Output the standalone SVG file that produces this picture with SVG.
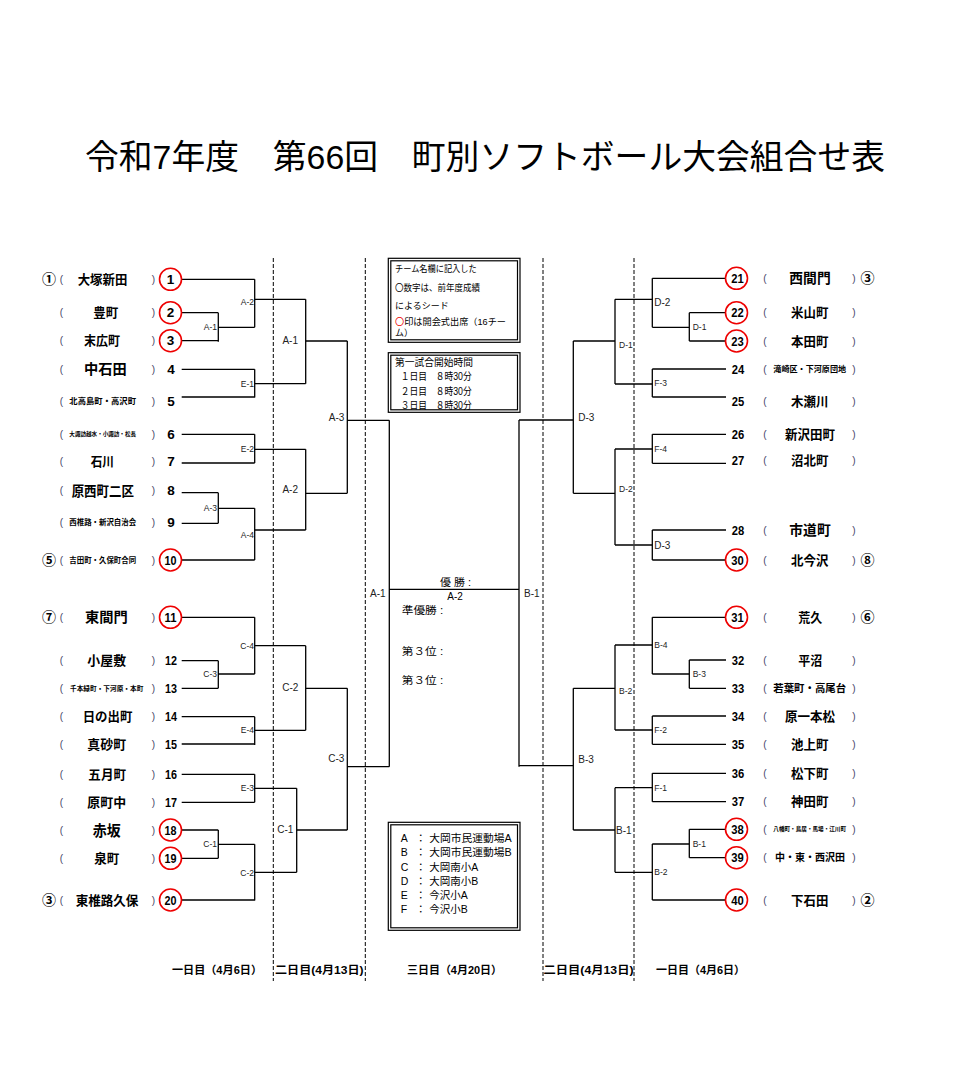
<svg xmlns="http://www.w3.org/2000/svg" width="973" height="1077" viewBox="0 0 973 1077">
<style>
text{font-family:"Liberation Sans","Noto Sans CJK JP",sans-serif;dominant-baseline:central;fill:#000}
.ln{stroke:#000;stroke-width:1.3;fill:none}
.dash{stroke:#000;stroke-width:1;stroke-dasharray:4 2;fill:none}
.nm{font-weight:bold;text-anchor:middle}
.num{font-weight:bold;text-anchor:middle;font-size:13.5px}
.sd{font-weight:bold;text-anchor:middle;font-size:14px}
.par{font-size:10px;text-anchor:middle;fill:#446}
.cir{fill:#fff;stroke:#e00;stroke-width:1.6}
.lb{font-size:8.5px;fill:#222}
.lb2{font-size:10px;fill:#222}
.r{text-anchor:end}
.bx{fill:none;stroke:#000;stroke-width:1.2}
.bt{font-size:9px}
.bt2{font-size:10px}
.ft{font-size:10px}
.day{font-size:11px;font-weight:bold}
</style>
<rect width="973" height="1077" fill="#fff"/>
<text id="title" x="485" y="157" text-anchor="middle" font-size="34" textLength="800" lengthAdjust="spacingAndGlyphs">令和7年度　第66回　町別ソフトボール大会組合せ表</text>

<g id="dashes">
<line class="dash" x1="273.3" y1="258" x2="273.3" y2="981"/>
<line class="dash" x1="365.3" y1="258" x2="365.3" y2="981"/>
<line class="dash" x1="543" y1="258" x2="543" y2="981"/>
<line class="dash" x1="634" y1="258" x2="634" y2="981"/>
</g>

<g id="connectors">
<path class="ln" d="M181.7 279.3H254.7M181.7 312.7H218.3M181.7 340.7H218.3M181.7 369.3H254.7M181.7 397H254.7M181.7 434.3H254.7M181.7 463H254.7M181.7 492.7H218.3M181.7 523.3H218.3M181.7 560H254.7M181.7 617.3H254.7M181.7 660.7H218.3M181.7 688.3H218.3M181.7 716.7H254.7M181.7 744H254.7M181.7 774.3H254.7M181.7 802.3H254.7M181.7 830H218.3M181.7 858.3H218.3M181.7 900H254.7"/>
<path class="ln" d="M218.3 312.7V341.7M218.3 492.7V523.3M218.3 660.7V688.3M218.3 830V858.3M218.3 327.3H254.7M218.3 508.3H254.7M218.3 674H254.7M218.3 844.3H254.7"/>
<path class="ln" d="M254.7 279.3V327.3M254.7 369.3V397.5M254.7 434.3V463M254.7 508.3V560M254.7 617.3V674M254.7 716.7V745M254.7 774.3V802.3M254.7 844.3V900.5"/>
<path class="ln" d="M254.7 299.3H305.7M254.7 383.7H305.7M254.7 449.3H305.7M254.7 530H305.7M254.7 645.7H305.7M254.7 730.3H305.7M254.7 788.3H296.7M254.7 872.3H296.7"/>
<path class="ln" d="M305.7 299.3V383.7M305.7 449.3V530M305.7 645.7V730.3M296.7 788.3V872.3M305.7 341H347.3M305.7 493.3H347.3M305.7 688.3H347.3M296.7 830H347.3"/>
<path class="ln" d="M347.3 341V493.3M347.3 688.3V830M347.3 420.3H389.3M347.3 766.7H389.3M389.3 420.3V766.7M389.3 589.3H519M519 420V766.7"/>
<path class="ln" d="M519 420H573.3M519 765.7H573.3M573.3 341V493.3M573.3 688.3V830M573.3 341H615M573.3 493.3H615M573.3 688.3H615M573.3 830H615"/>
<path class="ln" d="M615 299.3V384M615 449V545M615 645V730M615 787.7V872.3M615 299.3H652.3M615 384H652.3M615 449H652.3M615 545H652.3M615 645H652.3M615 730H652.3M615 787.7H652.3M615 872.3H652.3"/>
<path class="ln" d="M652.3 278.3V327.3M652.3 369V397M652.3 434.3V463.3M652.3 530V560M652.3 617.3V674M652.3 716V744.3M652.3 773.3V801.7M652.3 844V900M652.3 327.3H689.3M652.3 674H689.3M652.3 844H689.3M689.3 312.7V341M689.3 660V688.3M689.3 829.3V857.7"/>
<path class="ln" d="M652.3 278.3H726M689.3 312.7H726M689.3 341H726M652.3 369H726M652.3 397H726M652.3 434.3H726M652.3 463.3H726M652.3 530H726M652.3 560H726M652.3 617.3H726M689.3 660H726M689.3 688.3H726M652.3 716H726M652.3 744.3H726M652.3 773.3H726M652.3 801.7H726M689.3 829.3H726M689.3 857.7H726M652.3 900H726"/>
</g>

<g id="match-labels">
<text class="lb r" x="254" y="302">A-2</text>
<text class="lb r" x="217" y="327.3">A-1</text>
<text class="lb r" x="254" y="383.5">E-1</text>
<text class="lb r" x="254" y="449">E-2</text>
<text class="lb r" x="217" y="508.3">A-3</text>
<text class="lb r" x="254" y="535">A-4</text>
<text class="lb r" x="254" y="645.7" font-size="9.5">C-4</text>
<text class="lb r" x="217" y="674" font-size="9.5">C-3</text>
<text class="lb r" x="254" y="730" font-size="9.5">E-4</text>
<text class="lb r" x="254" y="788.3" font-size="9.5">E-3</text>
<text class="lb r" x="217" y="844.3" font-size="9.5">C-1</text>
<text class="lb r" x="254" y="872.5">C-2</text>
<text class="lb2 r" x="298" y="340.7">A-1</text>
<text class="lb2 r" x="298" y="489.3">A-2</text>
<text class="lb2 r" x="298.3" y="687.3">C-2</text>
<text class="lb2 r" x="293.3" y="829.3">C-1</text>
<text class="lb2 r" x="344.3" y="417.7">A-3</text>
<text class="lb2 r" x="344.3" y="758.7">C-3</text>
<text class="lb2" x="370" y="593.3">A-1</text>
<text class="lb2" x="524" y="593.3">B-1</text>
<text class="lb2" x="578.3" y="417.7">D-3</text>
<text class="lb2" x="578.3" y="759">B-3</text>
<text class="lb" x="619" y="345">D-1</text>
<text class="lb" x="619" y="489.3">D-2</text>
<text class="lb" x="619" y="690.7">B-2</text>
<text class="lb2" x="616" y="830" font-size="10.5">B-1</text>
<text class="lb2" x="654.3" y="302.7">D-2</text>
<text class="lb" x="692.7" y="327.3">D-1</text>
<text class="lb" x="654.3" y="383.3">F-3</text>
<text class="lb" x="654.3" y="449" font-size="9">F-4</text>
<text class="lb2" x="654.3" y="545">D-3</text>
<text class="lb" x="654.3" y="645">B-4</text>
<text class="lb" x="692.7" y="674">B-3</text>
<text class="lb" x="654.3" y="730">F-2</text>
<text class="lb" x="654.3" y="787.7">F-1</text>
<text class="lb" x="692.7" y="844">B-1</text>
<text class="lb" x="654.3" y="872.3">B-2</text>
</g>

<g id="t1"><text class="sd" x="49" y="279.3">①</text><text class="par" x="61.5" y="279.3">(</text><text class="nm" x="102.5" y="279.3" font-size="13" textLength="49.6" lengthAdjust="spacingAndGlyphs">大塚新田</text><text class="par" x="153.3" y="279.3">)</text><circle class="cir" cx="170.5" cy="279.3" r="11"/><text class="num" x="170.5" y="279.3">1</text></g>
<g id="t2"><text class="par" x="61.5" y="312.7">(</text><text class="nm" x="105.8" y="312.7" font-size="13" textLength="25" lengthAdjust="spacingAndGlyphs">豊町</text><text class="par" x="153.3" y="312.7">)</text><circle class="cir" cx="170.5" cy="312.7" r="11"/><text class="num" x="170.5" y="312.7">2</text></g>
<g id="t3"><text class="par" x="61.5" y="340.7">(</text><text class="nm" x="102" y="340.7" font-size="13" textLength="36" lengthAdjust="spacingAndGlyphs">末広町</text><text class="par" x="153.3" y="340.7">)</text><circle class="cir" cx="170.5" cy="340.7" r="11"/><text class="num" x="170.5" y="340.7">3</text></g>
<g id="t4"><text class="par" x="61.5" y="369.3">(</text><text class="nm" x="105.3" y="369.3" font-size="14" textLength="42.7" lengthAdjust="spacingAndGlyphs">中石田</text><text class="par" x="153.3" y="369.3">)</text><text class="num" x="171" y="369.3">4</text></g>
<g id="t5"><text class="par" x="61.5" y="401">(</text><text class="nm" x="102.7" y="401" font-size="8.5" textLength="66.7" lengthAdjust="spacingAndGlyphs">北高島町・高沢町</text><text class="par" x="153.3" y="401">)</text><text class="num" x="171" y="401">5</text></g>
<g id="t6"><text class="par" x="61.5" y="434.3">(</text><text class="nm" x="102.7" y="434.3" font-size="6" textLength="66.7" lengthAdjust="spacingAndGlyphs">大諏訪越水・小諏訪・松長</text><text class="par" x="153.3" y="434.3">)</text><text class="num" x="171" y="434.3">6</text></g>
<g id="t7"><text class="par" x="61.5" y="461">(</text><text class="nm" x="102.3" y="461" font-size="13" textLength="23.3" lengthAdjust="spacingAndGlyphs">石川</text><text class="par" x="153.3" y="461">)</text><text class="num" x="171" y="461">7</text></g>
<g id="t8"><text class="par" x="61.5" y="490.5">(</text><text class="nm" x="102.8" y="490.5" font-size="14" textLength="62.3" lengthAdjust="spacingAndGlyphs">原西町二区</text><text class="par" x="153.3" y="490.5">)</text><text class="num" x="171" y="490.5">8</text></g>
<g id="t9"><text class="par" x="61.5" y="522.5">(</text><text class="nm" x="102.7" y="522.5" font-size="7.5" textLength="66.7" lengthAdjust="spacingAndGlyphs">西椎路・新沢自治会</text><text class="par" x="153.3" y="522.5">)</text><text class="num" x="171" y="522.5">9</text></g>
<g id="t10"><text class="sd" x="49" y="560">⑤</text><text class="par" x="61.5" y="560">(</text><text class="nm" x="102.7" y="560" font-size="7.5" textLength="66.7" lengthAdjust="spacingAndGlyphs">吉田町・久保町合同</text><text class="par" x="153.3" y="560">)</text><circle class="cir" cx="170.5" cy="560" r="11"/><text class="num" x="170.5" y="560" textLength="12" lengthAdjust="spacingAndGlyphs">10</text></g>
<g id="t11"><text class="sd" x="49" y="617.3">⑦</text><text class="par" x="61.5" y="617.3">(</text><text class="nm" x="106.3" y="617.3" font-size="14" textLength="42.7" lengthAdjust="spacingAndGlyphs">東間門</text><text class="par" x="153.3" y="617.3">)</text><circle class="cir" cx="170.5" cy="617.3" r="11"/><text class="num" x="170.5" y="617.3" textLength="12" lengthAdjust="spacingAndGlyphs">11</text></g>
<g id="t12"><text class="par" x="61.5" y="660.7">(</text><text class="nm" x="106.7" y="660.7" font-size="13" textLength="38.7" lengthAdjust="spacingAndGlyphs">小屋敷</text><text class="par" x="153.3" y="660.7">)</text><text class="num" x="171" y="660.7" textLength="12" lengthAdjust="spacingAndGlyphs">12</text></g>
<g id="t13"><text class="par" x="61.5" y="688.3">(</text><text class="nm" x="106.7" y="688.3" font-size="7" textLength="73.3" lengthAdjust="spacingAndGlyphs">千本緑町・下河原・本町</text><text class="par" x="153.3" y="688.3">)</text><text class="num" x="171" y="688.3" textLength="12" lengthAdjust="spacingAndGlyphs">13</text></g>
<g id="t14"><text class="par" x="61.5" y="716.7">(</text><text class="nm" x="107.5" y="716.7" font-size="13" textLength="49.7" lengthAdjust="spacingAndGlyphs">日の出町</text><text class="par" x="153.3" y="716.7">)</text><text class="num" x="171" y="716.7" textLength="12" lengthAdjust="spacingAndGlyphs">14</text></g>
<g id="t15"><text class="par" x="61.5" y="744">(</text><text class="nm" x="106.7" y="744" font-size="13" textLength="38.7" lengthAdjust="spacingAndGlyphs">真砂町</text><text class="par" x="153.3" y="744">)</text><text class="num" x="171" y="744" textLength="12" lengthAdjust="spacingAndGlyphs">15</text></g>
<g id="t16"><text class="par" x="61.5" y="774.3">(</text><text class="nm" x="107.2" y="774.3" font-size="13" textLength="37.7" lengthAdjust="spacingAndGlyphs">五月町</text><text class="par" x="153.3" y="774.3">)</text><text class="num" x="171" y="774.3" textLength="12" lengthAdjust="spacingAndGlyphs">16</text></g>
<g id="t17"><text class="par" x="61.5" y="802.3">(</text><text class="nm" x="106.7" y="802.3" font-size="13" textLength="38.7" lengthAdjust="spacingAndGlyphs">原町中</text><text class="par" x="153.3" y="802.3">)</text><text class="num" x="171" y="802.3" textLength="12" lengthAdjust="spacingAndGlyphs">17</text></g>
<g id="t18"><text class="par" x="61.5" y="830">(</text><text class="nm" x="106.7" y="830" font-size="15" textLength="28" lengthAdjust="spacingAndGlyphs">赤坂</text><text class="par" x="153.3" y="830">)</text><circle class="cir" cx="170.5" cy="830" r="11"/><text class="num" x="170.5" y="830" textLength="12" lengthAdjust="spacingAndGlyphs">18</text></g>
<g id="t19"><text class="par" x="61.5" y="858.3">(</text><text class="nm" x="106.8" y="858.3" font-size="13" textLength="25" lengthAdjust="spacingAndGlyphs">泉町</text><text class="par" x="153.3" y="858.3">)</text><circle class="cir" cx="170.5" cy="858.3" r="11"/><text class="num" x="170.5" y="858.3" textLength="12" lengthAdjust="spacingAndGlyphs">19</text></g>
<g id="t20"><text class="sd" x="49" y="900">③</text><text class="par" x="61.5" y="900">(</text><text class="nm" x="107" y="900" font-size="13" textLength="62.7" lengthAdjust="spacingAndGlyphs">東椎路久保</text><text class="par" x="153.3" y="900">)</text><circle class="cir" cx="170.5" cy="900" r="11"/><text class="num" x="170.5" y="900" textLength="12" lengthAdjust="spacingAndGlyphs">20</text></g>

<g id="t21"><circle class="cir" cx="736.5" cy="278.3" r="11"/><text class="num" x="737.5" y="278.3" textLength="12.5" lengthAdjust="spacingAndGlyphs">21</text><text class="par" x="765" y="278.3">(</text><text class="nm" x="810" y="278.3" font-size="14" textLength="41.3" lengthAdjust="spacingAndGlyphs">西間門</text><text class="par" x="854" y="278.3">)</text><text class="sd" x="867.5" y="278.3">③</text></g>
<g id="t22"><circle class="cir" cx="736.5" cy="312.7" r="11"/><text class="num" x="737.5" y="312.7" textLength="12.5" lengthAdjust="spacingAndGlyphs">22</text><text class="par" x="765" y="312.7">(</text><text class="nm" x="809.7" y="312.7" font-size="13" textLength="37.3" lengthAdjust="spacingAndGlyphs">米山町</text><text class="par" x="854" y="312.7">)</text></g>
<g id="t23"><circle class="cir" cx="736.5" cy="341" r="11"/><text class="num" x="737.5" y="341" textLength="12.5" lengthAdjust="spacingAndGlyphs">23</text><text class="par" x="765" y="341">(</text><text class="nm" x="809.7" y="341" font-size="13" textLength="37.3" lengthAdjust="spacingAndGlyphs">本田町</text><text class="par" x="854" y="341">)</text></g>
<g id="t24"><text class="num" x="738" y="369" textLength="12.5" lengthAdjust="spacingAndGlyphs">24</text><text class="par" x="765" y="369">(</text><text class="nm" x="809.7" y="369" font-size="8" textLength="72.7" lengthAdjust="spacingAndGlyphs">滝崎区・下河原団地</text><text class="par" x="854" y="369">)</text></g>
<g id="t25"><text class="num" x="738" y="401.5" textLength="12.5" lengthAdjust="spacingAndGlyphs">25</text><text class="par" x="765" y="401.5">(</text><text class="nm" x="809.7" y="401.5" font-size="13" textLength="37.3" lengthAdjust="spacingAndGlyphs">木瀬川</text><text class="par" x="854" y="401.5">)</text></g>
<g id="t26"><text class="num" x="738" y="434.3" textLength="12.5" lengthAdjust="spacingAndGlyphs">26</text><text class="par" x="765" y="434.3">(</text><text class="nm" x="810" y="434.3" font-size="13" textLength="50" lengthAdjust="spacingAndGlyphs">新沢田町</text><text class="par" x="854" y="434.3">)</text></g>
<g id="t27"><text class="num" x="738" y="460.5" textLength="12.5" lengthAdjust="spacingAndGlyphs">27</text><text class="par" x="765" y="460.5">(</text><text class="nm" x="809.7" y="460.5" font-size="13" textLength="37.3" lengthAdjust="spacingAndGlyphs">沼北町</text><text class="par" x="854" y="460.5">)</text></g>
<g id="t28"><text class="num" x="738" y="530" textLength="12.5" lengthAdjust="spacingAndGlyphs">28</text><text class="par" x="765" y="530">(</text><text class="nm" x="810" y="530" font-size="14" textLength="41.3" lengthAdjust="spacingAndGlyphs">市道町</text><text class="par" x="854" y="530">)</text></g>
<g id="t30"><circle class="cir" cx="736.5" cy="560" r="11"/><text class="num" x="737.5" y="560" textLength="12.5" lengthAdjust="spacingAndGlyphs">30</text><text class="par" x="765" y="560">(</text><text class="nm" x="809.7" y="560" font-size="13" textLength="37.3" lengthAdjust="spacingAndGlyphs">北今沢</text><text class="par" x="854" y="560">)</text><text class="sd" x="867.5" y="560">⑧</text></g>
<g id="t31"><circle class="cir" cx="736.5" cy="617.3" r="11"/><text class="num" x="737.5" y="617.3" textLength="12.5" lengthAdjust="spacingAndGlyphs">31</text><text class="par" x="765" y="617.3">(</text><text class="nm" x="810.3" y="617.3" font-size="13" textLength="24" lengthAdjust="spacingAndGlyphs">荒久</text><text class="par" x="854" y="617.3">)</text><text class="sd" x="867.5" y="617.3">⑥</text></g>
<g id="t32"><text class="num" x="738" y="660" textLength="12.5" lengthAdjust="spacingAndGlyphs">32</text><text class="par" x="765" y="660">(</text><text class="nm" x="810.3" y="660" font-size="13" textLength="24" lengthAdjust="spacingAndGlyphs">平沼</text><text class="par" x="854" y="660">)</text></g>
<g id="t33"><text class="num" x="738" y="688.3" textLength="12.5" lengthAdjust="spacingAndGlyphs">33</text><text class="par" x="765" y="688.3">(</text><text class="nm" x="809.7" y="688.3" font-size="10.4" textLength="72.7" lengthAdjust="spacingAndGlyphs">若葉町・高尾台</text><text class="par" x="854" y="688.3">)</text></g>
<g id="t34"><text class="num" x="738" y="716" textLength="12.5" lengthAdjust="spacingAndGlyphs">34</text><text class="par" x="765" y="716">(</text><text class="nm" x="810" y="716" font-size="13" textLength="50" lengthAdjust="spacingAndGlyphs">原一本松</text><text class="par" x="854" y="716">)</text></g>
<g id="t35"><text class="num" x="738" y="744.3" textLength="12.5" lengthAdjust="spacingAndGlyphs">35</text><text class="par" x="765" y="744.3">(</text><text class="nm" x="809.7" y="744.3" font-size="13" textLength="37.3" lengthAdjust="spacingAndGlyphs">池上町</text><text class="par" x="854" y="744.3">)</text></g>
<g id="t36"><text class="num" x="738" y="773.3" textLength="12.5" lengthAdjust="spacingAndGlyphs">36</text><text class="par" x="765" y="773.3">(</text><text class="nm" x="809.7" y="773.3" font-size="13" textLength="37.3" lengthAdjust="spacingAndGlyphs">松下町</text><text class="par" x="854" y="773.3">)</text></g>
<g id="t37"><text class="num" x="738" y="801.7" textLength="12.5" lengthAdjust="spacingAndGlyphs">37</text><text class="par" x="765" y="801.7">(</text><text class="nm" x="809.7" y="801.7" font-size="13" textLength="37.3" lengthAdjust="spacingAndGlyphs">神田町</text><text class="par" x="854" y="801.7">)</text></g>
<g id="t38"><circle class="cir" cx="736.5" cy="829.3" r="11"/><text class="num" x="737.5" y="829.3" textLength="12.5" lengthAdjust="spacingAndGlyphs">38</text><text class="par" x="765" y="829.3">(</text><text class="nm" x="809.7" y="829.3" font-size="6" textLength="72.7" lengthAdjust="spacingAndGlyphs">八幡町・鳥居・馬場・江川町</text><text class="par" x="854" y="829.3">)</text></g>
<g id="t39"><circle class="cir" cx="736.5" cy="857.7" r="11"/><text class="num" x="737.5" y="857.7" textLength="12.5" lengthAdjust="spacingAndGlyphs">39</text><text class="par" x="765" y="857.7">(</text><text class="nm" x="810" y="857.7" font-size="10" textLength="70" lengthAdjust="spacingAndGlyphs">中・東・西沢田</text><text class="par" x="854" y="857.7">)</text></g>
<g id="t40"><circle class="cir" cx="736.5" cy="900" r="11"/><text class="num" x="737.5" y="900" textLength="12.5" lengthAdjust="spacingAndGlyphs">40</text><text class="par" x="765" y="900">(</text><text class="nm" x="809.7" y="900" font-size="13" textLength="37.3" lengthAdjust="spacingAndGlyphs">下石田</text><text class="par" x="854" y="900">)</text><text class="sd" x="867.5" y="900">②</text></g>

<g id="note-box">
<rect class="bx" x="388.3" y="258.3" width="131.7" height="84"/>
<rect class="bx" x="390.8" y="260.8" width="126.7" height="79" stroke-width="1"/>
<text class="bt" x="395" y="269" textLength="81.7" lengthAdjust="spacingAndGlyphs">チーム名欄に記入した</text>
<text class="bt" x="395" y="288.3" textLength="85" lengthAdjust="spacingAndGlyphs">〇数字は、前年度成績</text>
<text class="bt" x="395" y="305.7">によるシード</text>
<text class="bt" x="395" y="321.7" textLength="111" lengthAdjust="spacingAndGlyphs"><tspan fill="#e00">〇</tspan>印は開会式出席（16チー</text>
<text class="bt" x="395" y="333.3">ム）</text>
</g>

<g id="time-box">
<rect class="bx" x="388.3" y="352.7" width="131.7" height="59.6"/>
<rect class="bx" x="390.8" y="355.2" width="126.7" height="54.6" stroke-width="1"/>
<text class="bt2" x="395" y="362.7" textLength="78" lengthAdjust="spacingAndGlyphs">第一試合開始時間</text>
<text class="bt2" x="400.7" y="376.7" textLength="71" lengthAdjust="spacingAndGlyphs">１日目　８時30分</text>
<text class="bt2" x="400.7" y="391" textLength="71" lengthAdjust="spacingAndGlyphs">２日目　８時30分</text>
<text class="bt2" x="400.7" y="405" textLength="71" lengthAdjust="spacingAndGlyphs">３日目　８時30分</text>
</g>

<g id="results">
<text class="ft" x="440" y="582.3" font-size="9.5" textLength="31" lengthAdjust="spacingAndGlyphs">優 勝 :</text>
<text class="ft" x="455" y="596.7" text-anchor="middle">A-2</text>
<text class="ft" x="401.7" y="610.7" font-size="9.5" textLength="41.6" lengthAdjust="spacingAndGlyphs">準優勝 :</text>
<text class="ft" x="401.7" y="651.7" font-size="9.5" textLength="41.6" lengthAdjust="spacingAndGlyphs">第３位 :</text>
<text class="ft" x="401.7" y="680" font-size="9.5" textLength="41.6" lengthAdjust="spacingAndGlyphs">第３位 :</text>
</g>

<g id="venue-box">
<rect class="bx" x="388.3" y="822.3" width="131.7" height="108"/>
<rect class="bx" x="390.8" y="824.8" width="126.7" height="103" stroke-width="1"/>
<g font-size="10.5">
<text x="400.7" y="838.3">A</text><text x="420.7" y="838.3" text-anchor="middle">：</text><text x="429.3" y="838.3" textLength="82.4" lengthAdjust="spacingAndGlyphs">大岡市民運動場A</text>
<text x="400.7" y="852.3">B</text><text x="420.7" y="852.3" text-anchor="middle">：</text><text x="429.3" y="852.3" textLength="82.4" lengthAdjust="spacingAndGlyphs">大岡市民運動場B</text>
<text x="400.7" y="866.7">C</text><text x="420.7" y="866.7" text-anchor="middle">：</text><text x="429.3" y="866.7">大岡南小A</text>
<text x="400.7" y="881">D</text><text x="420.7" y="881" text-anchor="middle">：</text><text x="429.3" y="881">大岡南小B</text>
<text x="400.7" y="895">E</text><text x="420.7" y="895" text-anchor="middle">：</text><text x="429.3" y="895">今沢小A</text>
<text x="400.7" y="909">F</text><text x="420.7" y="909" text-anchor="middle">：</text><text x="429.3" y="909">今沢小B</text>
</g>
</g>

<g id="days">
<text class="day" x="172" y="970" textLength="90" lengthAdjust="spacingAndGlyphs">一日目（4月6日）</text>
<text class="day" x="275" y="970" textLength="88.5" lengthAdjust="spacingAndGlyphs">二日目(4月13日)</text>
<text class="day" x="407" y="970" textLength="95" lengthAdjust="spacingAndGlyphs">三日目（4月20日）</text>
<text class="day" x="543.5" y="970" textLength="90" lengthAdjust="spacingAndGlyphs">二日目(4月13日)</text>
<text class="day" x="656" y="970" textLength="89" lengthAdjust="spacingAndGlyphs">一日目（4月6日）</text>
</g>
</svg>
